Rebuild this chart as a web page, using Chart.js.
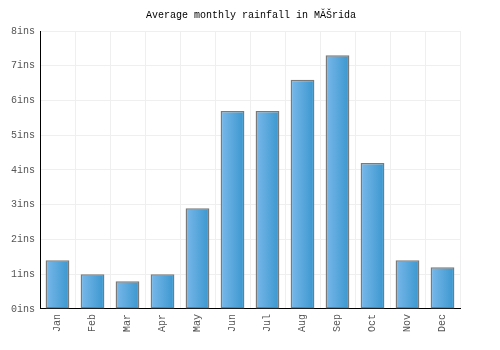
<!DOCTYPE html>
<html>
<head>
<meta charset="utf-8">
<script src="https://cdn.jsdelivr.net/npm/chart.js@4/dist/chart.umd.min.js"></script>
<style>
  body { margin: 0; background: #fff; }
  #wrap { width: 500px; height: 350px; }
</style>
</head>
<body>
<div id="wrap"><canvas id="rain-chart"></canvas></div>
<script>
// data
const months = ['Jan', 'Feb', 'Mar', 'Apr', 'May', 'Jun', 'Jul', 'Aug', 'Sep', 'Oct', 'Nov', 'Dec'];
const rainfall = [1.4, 1.0, 0.8, 1.0, 2.9, 5.7, 5.7, 6.6, 7.3, 4.2, 1.4, 1.2];
const yTicks = [0, 1, 2, 3, 4, 5, 6, 7, 8];
const chartTitle = 'Average monthly rainfall in MĂŠrida'; // garbled exactly like the original

const font = "'Liberation Mono', 'DejaVu Sans Mono', monospace";

// left-to-right gradient for each bar, built from the x scale
function barGradient(context) {
  const chart = context.chart;
  const xScale = chart.scales.x;
  if (!xScale || context.dataIndex === undefined) return '#4aa3db';
  const center = xScale.getPixelForValue(context.dataIndex);
  const half = (xScale.width / months.length) * 0.68 / 2;
  if (!isFinite(center) || !isFinite(half) || half <= 0) return '#4aa3db';
  const g = chart.ctx.createLinearGradient(center - half, 0, center + half, 0);
  g.addColorStop(0, '#7ab8ea');
  g.addColorStop(1, '#3997cf');
  return g;
}

const ctx = document.getElementById('rain-chart').getContext('2d');
const rainChart = new Chart(ctx, {
  type: 'bar',
  data: {
    labels: months,
    datasets: [{
      label: 'Rainfall',
      data: rainfall,
      backgroundColor: barGradient,
      borderColor: '#7a7a7a',
      borderWidth: 1.5,
      borderSkipped: false,
      barPercentage: 0.68,
      categoryPercentage: 1
    }]
  },
  options: {
    responsive: true,
    maintainAspectRatio: false,
    animation: false,
    layout: {
      padding: { left: 6, right: 4, top: 1, bottom: 13 }
    },
    plugins: {
      legend: { display: false },
      tooltip: { enabled: false },
      title: {
        display: true,
        text: chartTitle,
        color: '#000',
        font: { family: font, size: 10, weight: 'normal' },
        padding: { top: 8, bottom: 10 }
      }
    },
    scales: {
      x: {
        offset: true,
        grid: {
          color: '#efefef',
          drawTicks: false,
          offset: true
        },
        border: { color: '#000', width: 1 },
        ticks: {
          color: '#555',
          font: { family: font, size: 10 },
          minRotation: 90,
          maxRotation: 90,
          padding: 5
        }
      },
      y: {
        min: yTicks[0],
        max: yTicks[yTicks.length - 1],
        afterBuildTicks: (axis) => {
          axis.ticks = yTicks.map(v => ({ value: v }));
        },
        grid: {
          color: '#efefef',
          drawTicks: false
        },
        border: { color: '#000', width: 1 },
        ticks: {
          color: '#555',
          font: { family: font, size: 10 },
          padding: 5,
          callback: (v) => v + 'ins'
        }
      },
      // empty right axis, only keeps the space on the right so the title stays centred
      spacer: {
        type: 'linear',
        position: 'right',
        grid: { display: false },
        border: { display: false },
        ticks: { display: false },
        afterFit: (axis) => { axis.width = 36; }
      }
    }
  }
});
// redraw once the scales exist so every bar gets its gradient
rainChart.update();
</script>
</body>
</html>
